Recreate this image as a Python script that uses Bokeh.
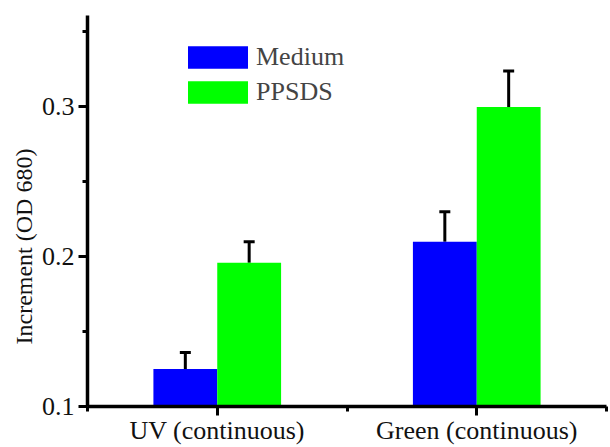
from bokeh.plotting import figure
from bokeh.models import Range1d, FixedTicker, Whisker, TeeHead, ColumnDataSource, Legend, LegendItem, Title
from bokeh.embed import file_html
from bokeh.resources import INLINE

# Data
categories = ["UV (continuous)", "Green (continuous)"]
series = ["Medium", "PPSDS"]
medium = [0.125, 0.210]
medium_err = [0.011, 0.020]
ppsds = [0.196, 0.300]
ppsds_err = [0.014, 0.024]
colors = ["#0000FF", "#00FF00"]
y_ticks = [0.1, 0.2, 0.3]
y_minor = [0.15, 0.25, 0.35]
y_title = "Increment (OD 680)"

FONT = "'Liberation Serif', 'Times New Roman', serif"

p = figure(width=610, height=447, output_backend="svg", toolbar_location=None,
           x_range=Range1d(0, 2), y_range=Range1d(0.1, 0.361),
           min_border_left=87, min_border_right=4, min_border_top=15, min_border_bottom=40)
p.outline_line_color = None
p.xgrid.visible = False
p.ygrid.visible = False
p.background_fill_color = "white"
p.border_fill_color = "white"

centers = [0.5 + i for i in range(len(categories))]
bw = 0.246
renderers = []
for k, (vals, errs) in enumerate([(medium, medium_err), (ppsds, ppsds_err)]):
    xs = [c + (k - 0.5) * bw for c in centers]
    src = ColumnDataSource(dict(x=xs, top=vals, up=[v + e for v, e in zip(vals, errs)]))
    r = p.vbar(x="x", top="top", bottom=0.1, width=bw, source=src,
               fill_color=colors[k], line_color=None)
    renderers.append(r)
    w = Whisker(source=src, base="x", lower="top", upper="up",
                line_color="black", line_width=3,
                upper_head=TeeHead(size=11, line_width=3, line_color="black"),
                lower_head=None)
    p.add_layout(w)

legend = Legend(items=[LegendItem(label=series[i], renderers=[renderers[i]]) for i in range(2)],
                location=(93, 299), glyph_width=75, glyph_height=28, spacing=5,
                label_standoff=1, padding=0, margin=0, border_line_color=None,
                background_fill_alpha=0, label_text_font=FONT, label_text_font_size="26px",
                label_height=27)
p.add_layout(legend, "center")

for ax in (p.xaxis[0], p.yaxis[0]):
    ax.axis_line_width = 3.5
    ax.axis_line_color = "black"
    ax.major_tick_line_width = 3
    ax.minor_tick_line_width = 3
    ax.major_tick_in = 0
    ax.major_tick_out = 9
    ax.minor_tick_in = 0
    ax.minor_tick_out = 5
    ax.major_label_text_font = FONT
    ax.major_label_text_font_size = "26px"
    ax.major_label_text_color = "#111111"

p.yaxis.ticker = FixedTicker(ticks=y_ticks, minor_ticks=y_minor)
p.yaxis.major_label_overrides = {t: f"{t:.1f}" for t in y_ticks}
p.yaxis.major_label_standoff = 4

ytitle = Title(text=y_title, align="left", offset=62, standoff=4,
               text_font=FONT, text_font_size="24px", text_font_style="normal",
               text_color="#111111")
p.add_layout(ytitle, "left")

p.xaxis.ticker = FixedTicker(ticks=centers, minor_ticks=[0, 1, 2])
p.xaxis.major_label_overrides = {c: lab for c, lab in zip(centers, categories)}
p.xaxis.major_label_standoff = 0

open("out.html", "w").write(file_html(p, INLINE))
